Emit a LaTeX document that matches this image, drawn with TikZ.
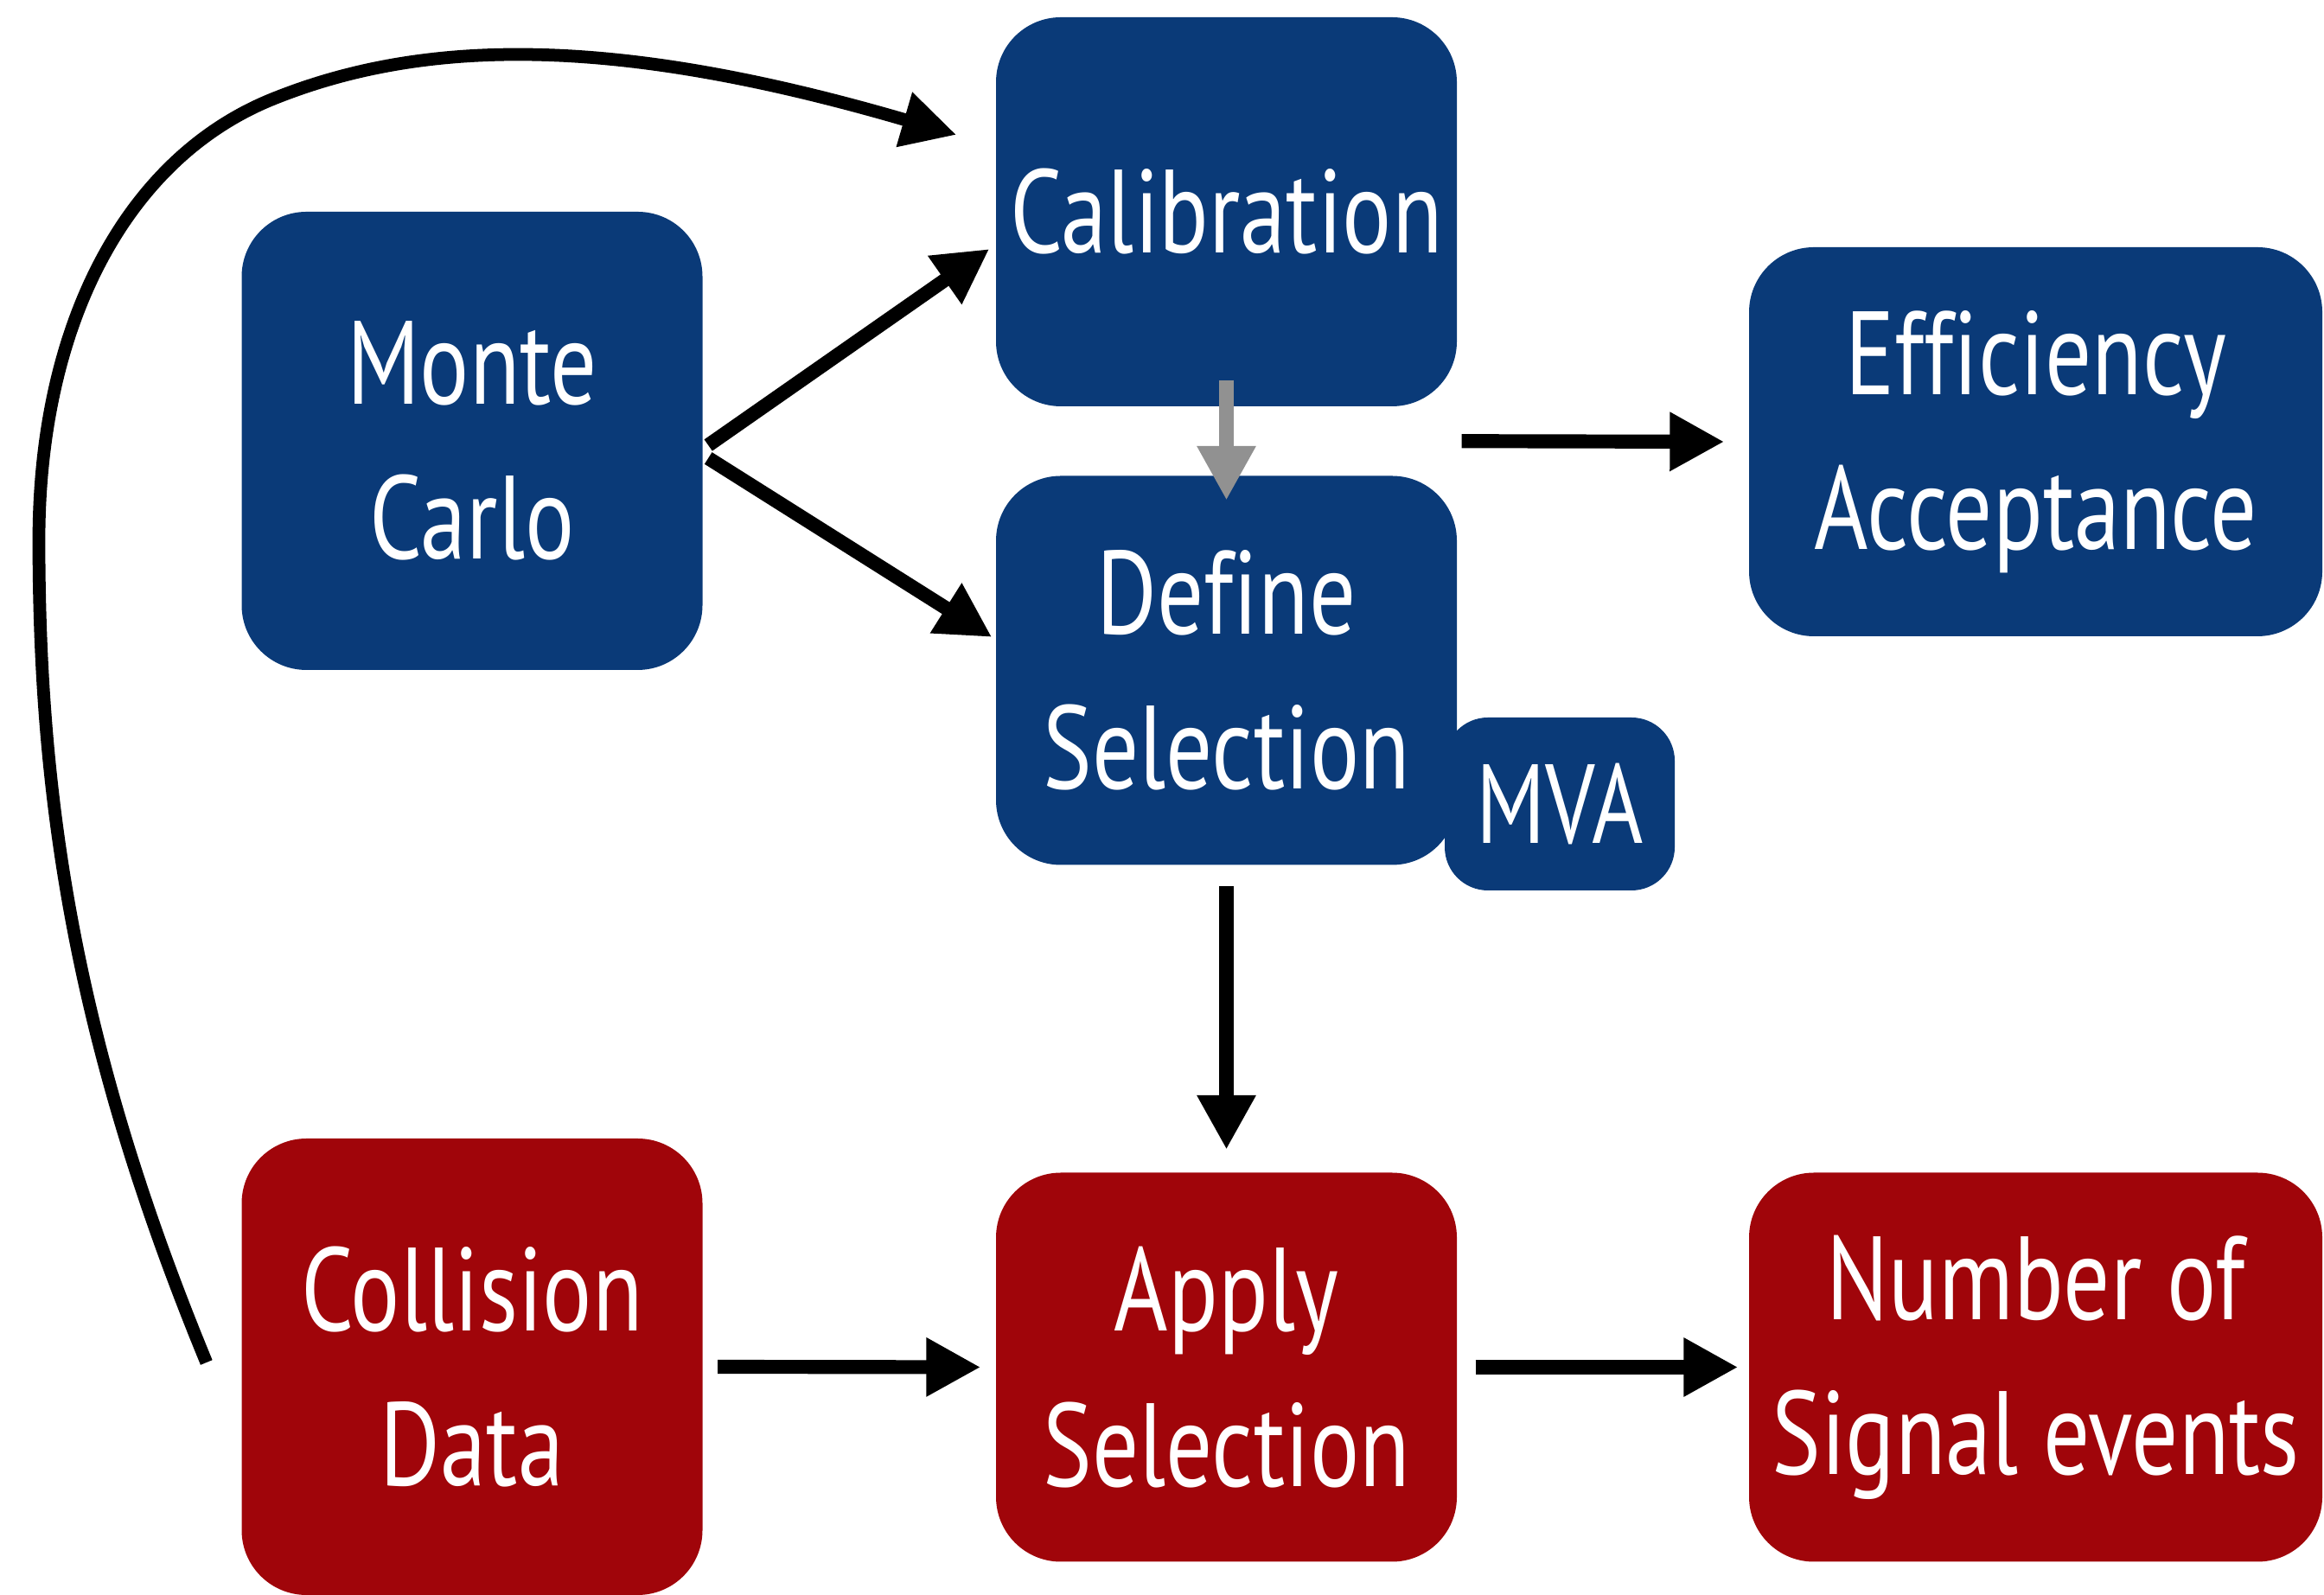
\documentclass[tikz,border=0pt]{standalone}
\usepackage{fontspec}
\setmainfont{PT Sans}[FakeStretch=0.78, Ligatures=NoCommon]
\usetikzlibrary{arrows.meta,calc}
\definecolor{mcblue}{RGB}{10,58,120}
\definecolor{datared}{RGB}{160,5,10}
\definecolor{arrgray}{RGB}{145,145,145}
\begin{document}
\begin{tikzpicture}[line join=round,
	stagebox/.style={rectangle, rounded corners=7.5mm, text=white, align=center, inner sep=0pt,
		minimum width=5.33cm, minimum height=4.5cm, font=\fontsize{39}{51}\selectfont},
	simbox/.style={stagebox, fill=mcblue},
	databox/.style={stagebox, fill=datared},
	flow/.style={line width=4.6pt, -{Triangle[length=6.3mm,width=6.4mm]}},
	feedback/.style={line width=4.2pt, -{Triangle[length=6.3mm,width=6.2mm]}}]
	\useasboundingbox (0,0) rectangle (26.88,18.45);
	% simulation side
	\node[simbox] (cal) at (14.185,16.0) {Calibration};
	\node[simbox, minimum height=5.3cm] (mc) at (5.46,13.35) {Monte\\Carlo};
	\node[simbox, minimum width=2.66cm, minimum height=2cm, rounded corners=5mm,
		font=\fontsize{37}{46}\selectfont] (mva) at (18.04,9.15) {MVA};
	\node[simbox] (def) at (14.185,10.695) {Define\\Selection};
	\node[simbox, minimum width=6.63cm] (eff) at (23.545,13.34) {Efficiency\\Acceptance};
	% data side
	\node[databox, minimum height=5.28cm] (col) at (5.46,2.64) {Collision\\Data};
	\node[databox] (app) at (14.185,2.635) {Apply\\Selection};
	\node[databox, minimum width=6.63cm] (num) at (23.545,2.635) {Number of\\Signal events};
	\coordinate (split) at ($(cal.south east)!0.5!(def.north east)$);
	\coordinate (fbstart) at ([xshift=-4mm,yshift=0.5mm]col.west);
	\coordinate (fbend) at ([xshift=-4.5mm,yshift=8.9mm]cal.west);
	\draw[flow] ([xshift=0.6mm,yshift=-0.5mm]mc.east) -- ([xshift=-0.7mm,yshift=-4.3mm]cal.west);
	\draw[flow] ([xshift=0.6mm,yshift=-2mm]mc.east) -- ([xshift=-0.4mm,yshift=3.85mm]def.west);
	\draw[flow, draw=arrgray] ([yshift=3.1mm]cal.south) -- ([yshift=-2.9mm]def.north);
	\draw[flow] ([xshift=0.5mm]split) -- ([xshift=-2.8mm]eff.west);
	\draw[flow] ([yshift=-2.4mm]def.south) -- ([yshift=2.6mm]app.north);
	\draw[flow] ([xshift=1.7mm]col.east) -- ([xshift=-1.7mm]app.west);
	\draw[flow] ([xshift=2.1mm]app.east) -- ([xshift=-1.2mm]num.west);
	\draw[feedback] (fbstart) .. controls (0.87,6.37) and (0.45,9.2) .. (0.45,12.2)
		.. controls (0.45,14.7) and (1.46,16.6) .. (3.12,17.29)
		.. controls (4.97,18.05) and (7.23,18.01) .. (fbend);
\end{tikzpicture}
\end{document}
